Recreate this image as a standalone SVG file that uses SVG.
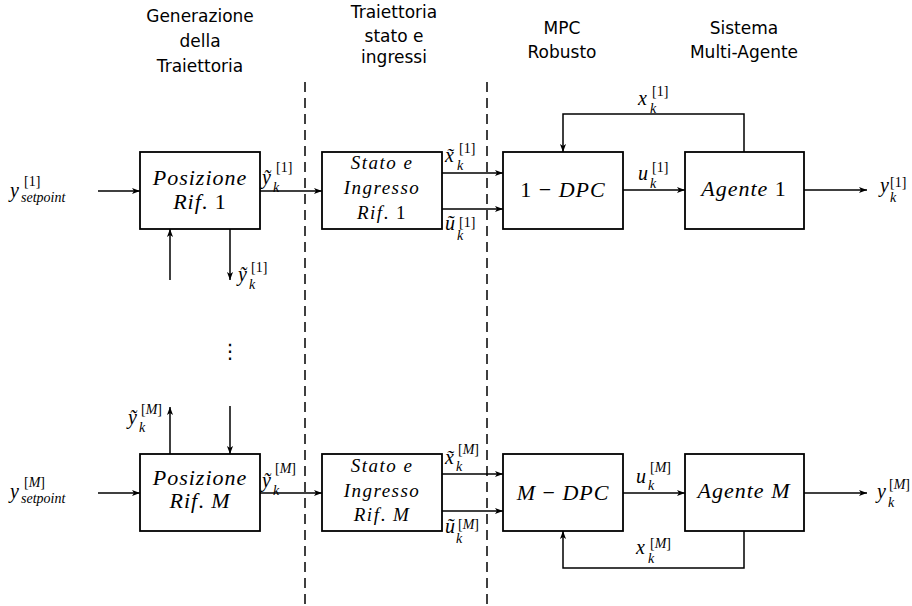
<svg xmlns="http://www.w3.org/2000/svg" width="912" height="606" viewBox="0 0 912 606">
<defs>
<marker id="arr" viewBox="0 0 10 10" refX="10" refY="5" markerWidth="8" markerHeight="8" markerUnits="userSpaceOnUse" orient="auto">
<path d="M0,1.2 L10,5 L0,8.8 L2.5,5 Z" fill="#000"/>
</marker>
</defs>
<style>
.box{fill:#fff;stroke:#000;stroke-width:1.8}
.ln{fill:none;stroke:#000;stroke-width:1.5}
.ar{marker-end:url(#arr)}
.dash{stroke:#000;stroke-width:1.5;stroke-dasharray:10 6;fill:none}
.hd{font-family:"DejaVu Sans","Liberation Sans",sans-serif;font-size:17px;text-anchor:middle}
.bt{font-family:"Liberation Serif",serif;font-style:italic;font-size:22px;text-anchor:middle;letter-spacing:1px}
.bs{font-family:"Liberation Serif",serif;font-style:italic;font-size:19px;text-anchor:middle;letter-spacing:1.5px}
.m{font-family:"Liberation Serif",serif;font-style:italic;font-size:20px}
.s{font-family:"Liberation Serif",serif;font-style:italic;font-size:14px}
.up{font-style:normal}
</style>
<g id="headers">
<text class="hd" x="200" y="22">Generazione</text>
<text class="hd" x="200" y="47">della</text>
<text class="hd" x="200" y="72">Traiettoria</text>
<text class="hd" x="394" y="18">Traiettoria</text>
<text class="hd" x="394" y="42">stato e</text>
<text class="hd" x="394" y="63">ingressi</text>
<text class="hd" x="562" y="34">MPC</text>
<text class="hd" x="562" y="58">Robusto</text>
<text class="hd" x="744" y="34">Sistema</text>
<text class="hd" x="744" y="58">Multi-Agente</text>
</g>
<g id="separators">
<line class="dash" x1="305" y1="82" x2="305" y2="606"/>
<line class="dash" x1="487" y1="82" x2="487" y2="606"/>
</g>
<g id="connectors">
<line class="ln ar" x1="98" y1="191" x2="140" y2="191"/>
<line class="ln ar" x1="260" y1="191" x2="322" y2="191"/>
<line class="ln ar" x1="170" y1="280" x2="170" y2="229"/>
<line class="ln ar" x1="230" y1="229" x2="230" y2="280"/>
<line class="ln ar" x1="442" y1="173" x2="503" y2="173"/>
<line class="ln ar" x1="442" y1="209" x2="503" y2="209"/>
<line class="ln ar" x1="623" y1="190" x2="685" y2="190"/>
<line class="ln ar" x1="804" y1="190" x2="867" y2="190"/>
<path class="ln ar" d="M744,152 V114 H563 V152"/>
<line class="ln ar" x1="98" y1="493" x2="140" y2="493"/>
<line class="ln ar" x1="260" y1="493" x2="322" y2="493"/>
<line class="ln ar" x1="170" y1="454" x2="170" y2="407"/>
<line class="ln ar" x1="230" y1="406" x2="230" y2="454"/>
<line class="ln ar" x1="442" y1="474" x2="503" y2="474"/>
<line class="ln ar" x1="442" y1="511" x2="503" y2="511"/>
<line class="ln ar" x1="623" y1="493" x2="685" y2="493"/>
<line class="ln ar" x1="804" y1="493" x2="867" y2="493"/>
<path class="ln ar" d="M744,531 V568 H563 V531"/>
</g>
<g id="pos1">
<rect class="box" x="140" y="152" width="120" height="77"/>
<text class="bt" x="200" y="185">Posizione</text>
<text class="bt" x="200" y="209">Rif<tspan class="up">. 1</tspan></text>
</g>
<g id="stato1">
<rect class="box" x="322" y="152" width="120" height="77"/>
<text class="bs" x="382" y="169">Stato e</text>
<text class="bs" x="382" y="194">Ingresso</text>
<text class="bs" x="382" y="219">Rif<tspan class="up">. 1</tspan></text>
</g>
<g id="dpc1">
<rect class="box" x="503" y="152" width="120" height="77"/>
<text class="bt" x="563" y="197"><tspan class="up">1 − </tspan>DPC</text>
</g>
<g id="agente1">
<rect class="box" x="685" y="152" width="119" height="77"/>
<text class="bt" x="744" y="196">Agente <tspan class="up">1</tspan></text>
</g>
<g id="posM">
<rect class="box" x="140" y="454" width="120" height="77"/>
<text class="bt" x="200" y="485">Posizione</text>
<text class="bt" x="200" y="508">Rif<tspan class="up">. </tspan>M</text>
</g>
<g id="statoM">
<rect class="box" x="322" y="454" width="120" height="77"/>
<text class="bs" x="382" y="472">Stato e</text>
<text class="bs" x="382" y="497">Ingresso</text>
<text class="bs" x="382" y="521">Rif<tspan class="up">. </tspan>M</text>
</g>
<g id="dpcM">
<rect class="box" x="503" y="454" width="120" height="77"/>
<text class="bt" x="563" y="500">M<tspan class="up"> − </tspan>DPC</text>
</g>
<g id="agenteM">
<rect class="box" x="685" y="454" width="119" height="77"/>
<text class="bt" x="744" y="498">Agente M</text>
</g>
<g id="labels">
<text class="m" x="10" y="197">y</text><text class="s" x="24" y="186"><tspan class="up">[1]</tspan></text><text class="s" x="21" y="202">setpoint</text>
<text class="m" x="10" y="498">y</text><text class="s" x="24" y="487"><tspan class="up">[</tspan>M<tspan class="up">]</tspan></text><text class="s" x="21" y="503">setpoint</text>
<text class="m" x="262" y="184">ỹ</text><text class="s" x="273" y="192">k</text><text class="s" x="276" y="172"><tspan class="up">[1]</tspan></text>
<text class="m" x="238" y="281">ỹ</text><text class="s" x="249" y="289">k</text><text class="s" x="251" y="272"><tspan class="up">[1]</tspan></text>
<text class="m" x="128" y="424">ỹ</text><text class="s" x="139" y="432">k</text><text class="s" x="141" y="414"><tspan class="up">[</tspan>M<tspan class="up">]</tspan></text>
<text class="m" x="262" y="487">ỹ</text><text class="s" x="273" y="495">k</text><text class="s" x="275" y="473"><tspan class="up">[</tspan>M<tspan class="up">]</tspan></text>
<text class="m" x="445" y="162">x̃</text><text class="s" x="457" y="170">k</text><text class="s" x="459" y="153"><tspan class="up">[1]</tspan></text>
<text class="m" x="445" y="230">ũ</text><text class="s" x="457" y="240">k</text><text class="s" x="459" y="227"><tspan class="up">[1]</tspan></text>
<text class="m" x="445" y="464">x̃</text><text class="s" x="456" y="471">k</text><text class="s" x="458" y="454"><tspan class="up">[</tspan>M<tspan class="up">]</tspan></text>
<text class="m" x="445" y="533">ũ</text><text class="s" x="456" y="543">k</text><text class="s" x="458" y="529"><tspan class="up">[</tspan>M<tspan class="up">]</tspan></text>
<text class="m" x="638" y="180">u</text><text class="s" x="650" y="188">k</text><text class="s" x="652" y="172"><tspan class="up">[1]</tspan></text>
<text class="m" x="638" y="105">x</text><text class="s" x="650" y="113">k</text><text class="s" x="652" y="96"><tspan class="up">[1]</tspan></text>
<text class="m" x="880" y="192">y</text><text class="s" x="890" y="202">k</text><text class="s" x="890" y="187"><tspan class="up">[1]</tspan></text>
<text class="m" x="636" y="483">u</text><text class="s" x="648" y="490">k</text><text class="s" x="650" y="472"><tspan class="up">[</tspan>M<tspan class="up">]</tspan></text>
<text class="m" x="636" y="554">x</text><text class="s" x="648" y="563">k</text><text class="s" x="650" y="548"><tspan class="up">[</tspan>M<tspan class="up">]</tspan></text>
<text class="m" x="877" y="498">y</text><text class="s" x="888" y="507">k</text><text class="s" x="889" y="489"><tspan class="up">[</tspan>M<tspan class="up">]</tspan></text>
<text x="230" y="358" font-family="DejaVu Sans, sans-serif" font-size="20" text-anchor="middle">⋮</text>
</g>
</svg>
